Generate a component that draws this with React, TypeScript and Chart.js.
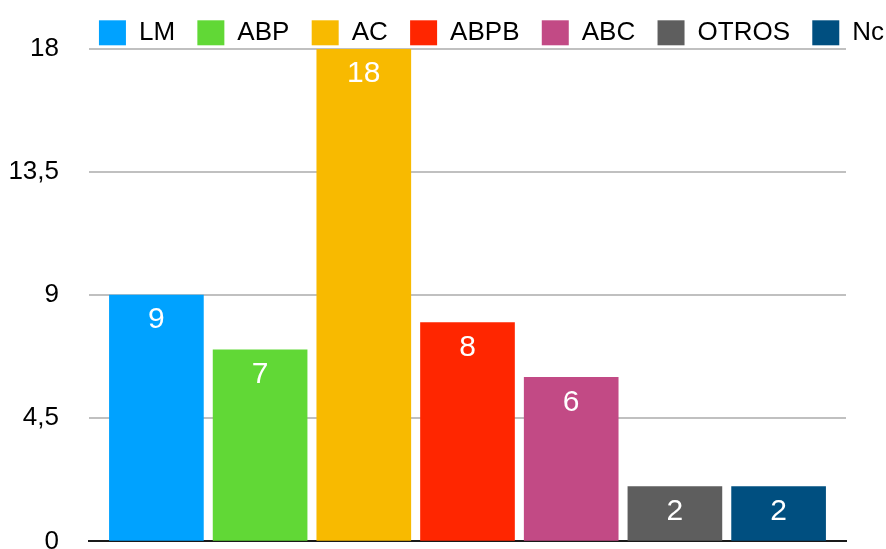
import React, { useEffect, useRef } from "react";
import { Chart, registerables } from "chart.js";

Chart.register(...registerables);

const categories = ["LM", "ABP", "AC", "ABPB", "ABC", "OTROS", "Nc"];
const values = [9, 7, 18, 8, 6, 2, 2];
const colors = ["#00A2FF", "#61D836", "#F8BA00", "#FF2600", "#C24A85", "#5E5E5E", "#004F80"];
const yTickValues = [0, 4.5, 9, 13.5, 18];
const yTickLabels = ["0", "4,5", "9", "13,5", "18"];

const FONT = '"Liberation Sans", Arial, Helvetica, sans-serif';
const W = 983;
const H = 587;

const barLabels = {
  id: "barLabels",
  afterDatasetsDraw(chart: any) {
    const ctx = chart.ctx;
    const meta = chart.getDatasetMeta(0);
    ctx.save();
    ctx.fillStyle = "#ffffff";
    ctx.font = `30px ${FONT}`;
    ctx.textAlign = "center";
    ctx.textBaseline = "middle";
    meta.data.forEach((bar: any, i: number) => {
      ctx.fillText(String(values[i]), bar.x, bar.y + 25);
    });
    ctx.restore();
  },
};

export default function App() {
  const ref = useRef<HTMLCanvasElement>(null);

  useEffect(() => {
    if (!ref.current) return;
    Chart.defaults.font.family = FONT;
    const chart = new Chart(ref.current, {
      type: "bar",
      data: {
        datasets: [
          {
            label: "Valores",
            data: values.map((v, i) => ({ x: i, y: v })),
            backgroundColor: colors,
            borderWidth: 0,
            barThickness: 94,
          },
        ],
      },
      options: {
        responsive: false,
        animation: false,
        events: [],
        layout: { padding: { top: -2.5, left: 0, right: 0, bottom: 16 } },
        plugins: {
          tooltip: { enabled: false },
          legend: {
            display: true,
            position: "top",
            align: "center",
            maxHeight: 51.5,
            onClick: () => {},
            labels: {
              boxWidth: 27,
              boxHeight: 25,
              padding: 22.3,
              color: "#000000",
              font: { size: 26, family: FONT },
              generateLabels: () =>
                categories.map((c, i) => ({
                  text: c,
                  fillStyle: colors[i],
                  strokeStyle: colors[i],
                  lineWidth: 0,
                  hidden: false,
                  index: i,
                  fontColor: "#000000",
                })),
            },
          },
        },
        scales: {
          x: {
            type: "linear",
            min: -0.65,
            max: 6.65,
            offset: false,
            ticks: { display: false },
            grid: { display: false, drawTicks: false },
            border: { display: true, color: "#1A1A1A", width: 2 },
          },
          y: {
            type: "linear",
            position: "left",
            min: 0,
            max: 18,
            afterFit: (s: any) => {
              s.width = 89;
            },
            afterBuildTicks: (s: any) => {
              s.ticks = yTickValues.map((v) => ({ value: v }));
            },
            ticks: {
              padding: 30,
              color: "#000000",
              font: { size: 26, family: FONT },
              callback: (_v: any, i: number) => yTickLabels[i],
            },
            grid: {
              drawTicks: false,
              lineWidth: 2,
              color: (c: any) => (c.tick && c.tick.value === 0 ? "rgba(0,0,0,0)" : "#C0C0C0"),
            },
            border: { display: false },
          },
          y2: {
            type: "linear",
            position: "right",
            display: true,
            afterFit: (s: any) => {
              s.width = W - 846;
            },
            ticks: { display: false },
            grid: { display: false, drawTicks: false },
            border: { display: false },
          },
        },
      },
      plugins: [barLabels],
    } as any);
    return () => chart.destroy();
  }, []);

  return (
    <div
      style={{
        position: "fixed",
        left: 0,
        top: 0,
        width: 886,
        height: 549,
        overflow: "hidden",
        background: "#ffffff",
      }}
    >
      <canvas ref={ref} width={W} height={H} style={{ display: "block", width: W, height: H }} />
    </div>
  );
}
